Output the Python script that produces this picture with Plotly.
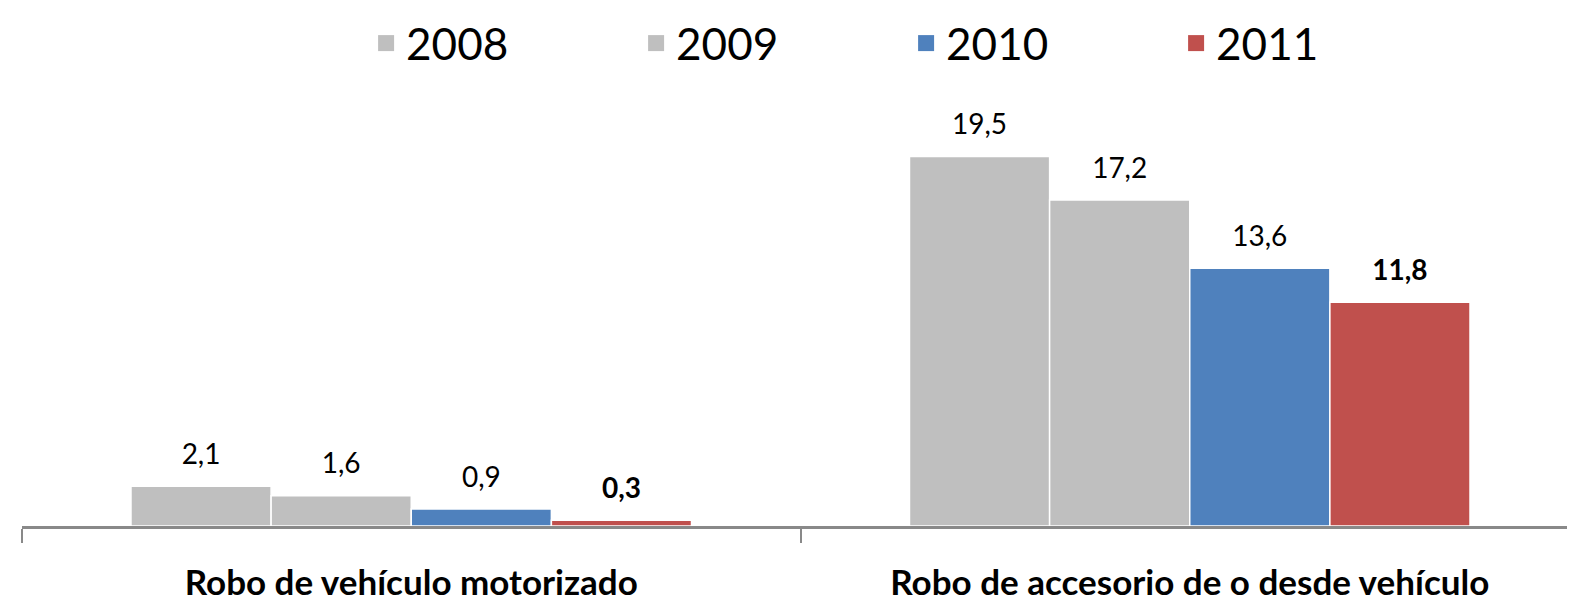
import plotly.graph_objects as go

categories = ["Robo de vehículo motorizado", "Robo de accesorio de o desde vehículo"]
years = ["2008", "2009", "2010", "2011"]
values = {
    "2008": [2.1, 19.5],
    "2009": [1.6, 17.2],
    "2010": [0.9, 13.6],
    "2011": [0.3, 11.8],
}
colors = {"2008": "#BFBFBF", "2009": "#BFBFBF", "2010": "#4F81BD", "2011": "#C0504D"}

FONT = "Lato, Carlito, Calibri, sans-serif"
GAP = 0.28

fig = go.Figure()
for y in years:
    fig.add_trace(go.Bar(
        name=y,
        x=categories,
        y=values[y],
        marker=dict(color=colors[y], line=dict(color="white", width=1.5)),
        hoverinfo="skip",
        showlegend=False,
    ))

# data labels, grouped like the bars
for y in years:
    bold = y == "2011"
    labels = [("<b>%s</b>" if bold else "%s") % f"{v:.1f}".replace(".", ",") for v in values[y]]
    fig.add_trace(go.Scatter(
        name=y, x=categories, y=values[y], mode="markers+text",
        marker=dict(size=23, color="rgba(0,0,0,0)"),
        text=labels, textposition="top center",
        textfont=dict(size=28, color="black", family=FONT),
        cliponaxis=False, showlegend=False, hoverinfo="skip",
    ))

# legend entries with larger square symbols (on hidden axes so they don't affect grouping)
for y in years:
    fig.add_trace(go.Scatter(
        name=y, x=[None], y=[None], mode="markers",
        xaxis="x2", yaxis="y2",
        marker=dict(symbol="square", size=20, color=colors[y]),
        showlegend=True, hoverinfo="skip",
    ))

fig.update_layout(
    width=1575, height=606,
    margin=dict(l=14, r=4, t=101, b=88, autoexpand=False),
    paper_bgcolor="white", plot_bgcolor="white",
    barmode="group", bargap=GAP, bargroupgap=0.0,
    scattermode="group", scattergap=GAP,
    font=dict(family=FONT, color="black"),
    legend=dict(
        orientation="h", x=0.221, xanchor="left", y=1.0, yref="container", yanchor="top",
        font=dict(size=44, family=FONT, color="black"),
        entrywidth=225, entrywidthmode="pixels",
        traceorder="normal", bgcolor="rgba(0,0,0,0)",
    ),
    showlegend=True,
    xaxis2=dict(overlaying="x", visible=False, range=[0, 1]),
    yaxis2=dict(overlaying="y", visible=False, range=[0, 1]),
)
fig.update_layout(xaxis=dict(
    showline=True, linecolor="#898989", linewidth=3,
    ticks="outside", tickson="boundaries", ticklen=14, tickwidth=2, tickcolor="#898989",
    tickfont=dict(size=35, family=FONT, color="black", weight="bold"),
    ticklabelstandoff=24,
    showgrid=False, zeroline=False,
))
fig.update_layout(yaxis=dict(
    range=[0, 22], visible=False, showgrid=False, zeroline=False,
))

fig.write_html("out.html")
